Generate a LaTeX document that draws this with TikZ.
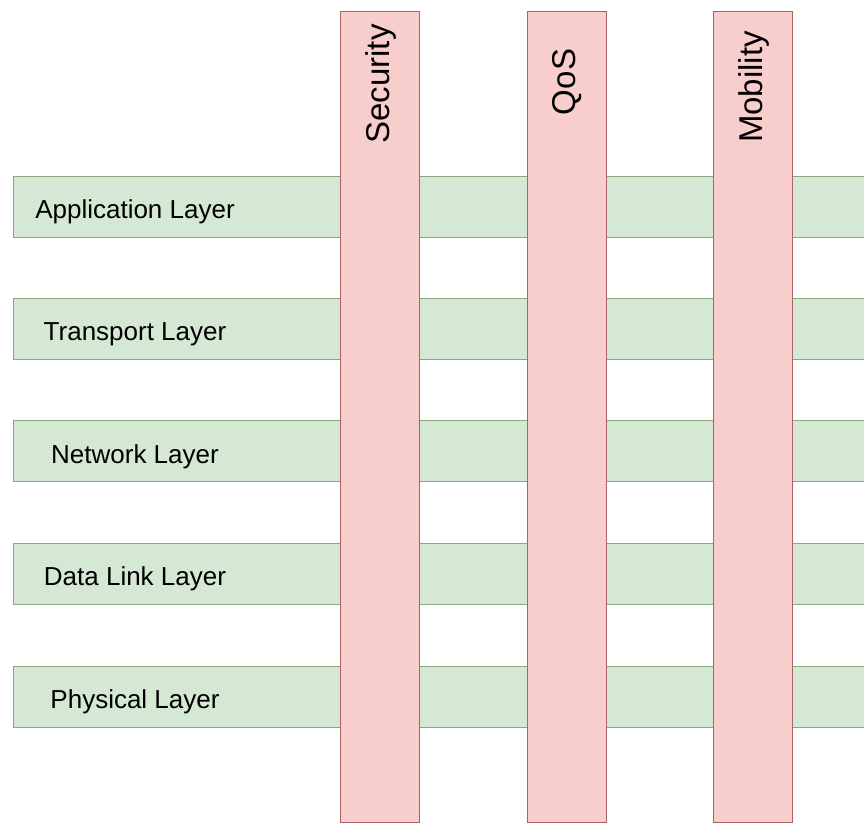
\documentclass[tikz,border=0pt]{standalone}
\usepackage{fontspec}
\setmainfont{Liberation Sans}
\usepackage{tikz}
\definecolor{layerfill}{HTML}{D5E8D4}
\definecolor{layerline}{HTML}{8AA77E}
\definecolor{servfill}{HTML}{F8CECC}
\definecolor{servline}{HTML}{A86464}
\tikzstyle{layer}=[rectangle, fill=layerfill, draw=layerline, line width=1pt, minimum width=860pt, minimum height=61pt, inner sep=0pt]
\tikzstyle{layertext}=[font=\fontsize{26}{31}\selectfont, inner sep=0pt]
\tikzstyle{service}=[rectangle, fill=servfill, draw=servline, line width=1pt, minimum width=79pt, minimum height=810pt, inner sep=0pt]
\tikzstyle{servtext}=[font=\fontsize{33}{39}\selectfont, rotate=90, inner sep=0pt]

\begin{document}
\begin{tikzpicture}[x=1pt, y=-1pt]
		   \useasboundingbox (0, 0) rectangle (864, 824);
		   \clip (0, 0) rectangle (864, 824);
		   \begin{scope}
			   \node (app) at (443, 206.5)[layer] {};
			   \node (trans) at (443, 328.5)[layer] {};
			   \node (net) at (443, 451)[layer] {};
			   \node (link) at (443, 573.5)[layer] {};
			   \node (phy) at (443, 696.5)[layer] {};
			   \node (apptext) at (135, 212)[layertext] {Application Layer};
			   \node (transtext) at (135, 334)[layertext] {Transport Layer};
			   \node (nettext) at (135, 456.5)[layertext] {Network Layer};
			   \node (linktext) at (135, 579)[layertext] {Data Link Layer};
			   \node (phytext) at (135, 702)[layertext] {Physical Layer};
		   \end{scope}
		   \begin{scope}
			   \node (sec) at (380, 417)[service] {};
			   \node (qos) at (566.5, 417)[service] {};
			   \node (mob) at (753, 417)[service] {};
			   \node (sectext) at (381, 84)[servtext] {Security};
			   \node (qostext) at (567.5, 82)[servtext] {QoS};
			   \node (mobtext) at (754, 87)[servtext] {Mobility};
		   \end{scope}
	   \end{tikzpicture}
\end{document}
